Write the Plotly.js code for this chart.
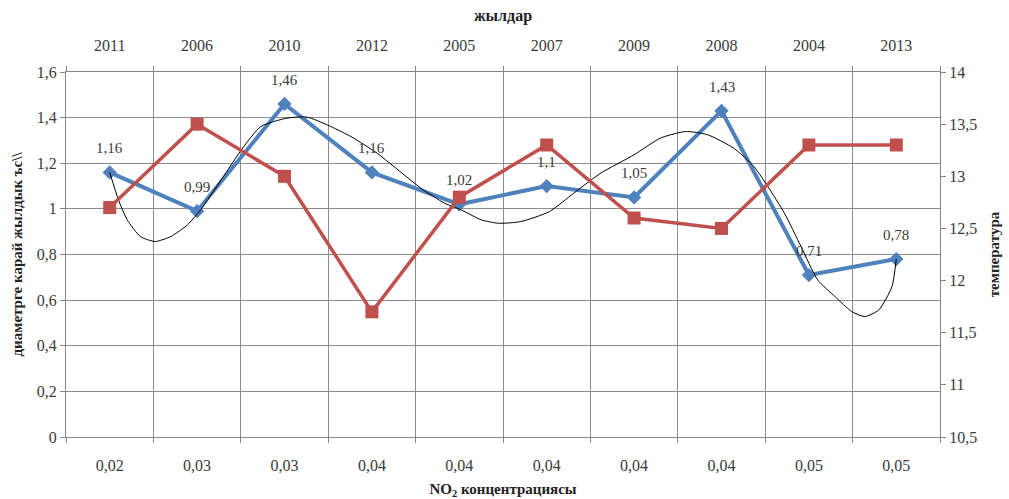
<!DOCTYPE html>
<html>
<head>
<meta charset="utf-8">
<script src="https://cdn.plot.ly/plotly-3.0.1.min.js"></script>
<style>html,body{margin:0;padding:0;background:#fff;}#chart{width:1009px;height:499px;}</style>
</head>
<body>
<div id="chart"></div>
<script>
// Category positions and tick labels
const positions = [1, 2, 3, 4, 5, 6, 7, 8, 9, 10];
const no2Labels = ["0,02", "0,03", "0,03", "0,04", "0,04", "0,04", "0,04", "0,04", "0,05", "0,05"];
const years = ["2011", "2006", "2010", "2012", "2005", "2007", "2009", "2008", "2004", "2013"];

// Series values
const growth = [1.16, 0.99, 1.46, 1.16, 1.02, 1.1, 1.05, 1.43, 0.71, 0.78];
const temperature = [12.7, 13.5, 13.0, 11.7, 12.8, 13.3, 12.6, 12.5, 13.3, 13.3];

// Smoothed black curve
const curveX = [1.0, 1.1, 1.2, 1.35, 1.52, 1.7, 1.89, 2.04, 2.28, 2.52, 2.73, 3.03, 3.26, 3.49, 3.76, 4.06, 4.25, 4.56, 4.83, 5.02, 5.25, 5.45, 5.7, 6.03, 6.31, 6.62, 7.0, 7.3, 7.59, 7.84, 8.14, 8.37, 8.53, 8.72, 8.91, 9.1, 9.3, 9.49, 9.64, 9.8, 9.95, 10.0];
const curveY = [1.16, 1.04, 0.952, 0.879, 0.857, 0.879, 0.93, 0.996, 1.13, 1.266, 1.361, 1.398, 1.402, 1.368, 1.317, 1.244, 1.186, 1.091, 1.025, 0.996, 0.952, 0.937, 0.944, 0.988, 1.069, 1.157, 1.237, 1.31, 1.339, 1.325, 1.266, 1.186, 1.098, 0.981, 0.835, 0.689, 0.615, 0.55, 0.528, 0.557, 0.659, 0.78];

const FONT = "Liberation Serif";
const GRID = "#8c8c8c";
const LINE = "#868686";
const TXT = "#3a3a3a";

const traces = [
  {
    x: positions, y: growth, xaxis: "x", yaxis: "y",
    type: "scatter", mode: "lines+markers",
    line: {color: "#4F81BD", width: 4},
    marker: {symbol: "diamond", size: 11, color: "#4F81BD"},
    showlegend: false, hoverinfo: "skip", cliponaxis: false
  },
  {
    x: positions, y: temperature, xaxis: "x", yaxis: "y2",
    type: "scatter", mode: "lines+markers",
    line: {color: "#C0504D", width: 3.5},
    marker: {symbol: "square", size: 13, color: "#C0504D"},
    showlegend: false, hoverinfo: "skip", cliponaxis: false
  },
  {
    x: curveX, y: curveY, xaxis: "x", yaxis: "y",
    type: "scatter", mode: "lines",
    line: {color: "#000000", width: 1, shape: "spline", smoothing: 0.6},
    showlegend: false, hoverinfo: "skip"
  },
  {
    x: positions, y: growth, xaxis: "x2", yaxis: "y",
    type: "scatter", mode: "markers", marker: {opacity: 0},
    showlegend: false, hoverinfo: "skip"
  }
];

// Data labels for the blue series, placed above each point
const labelAnnotations = positions.map((p, i) => ({
  x: p, y: growth[i], xref: "x", yref: "y",
  text: String(growth[i]).replace(".", ","),
  showarrow: false, yshift: 24,
  font: {family: FONT, size: 15, color: TXT}
}));

const layout = {
  width: 1009, height: 499,
  margin: {l: 66, r: 69, t: 72, b: 62},
  paper_bgcolor: "#ffffff", plot_bgcolor: "#ffffff",
  separators: ", ",
  font: {family: FONT, size: 15, color: TXT},
  showlegend: false,
  annotations: labelAnnotations,
  xaxis: {
    type: "linear", range: [0.5, 10.5],
    tickmode: "array", tickvals: positions, ticktext: no2Labels,
    ticks: "outside", ticklen: 14, tickcolor: "rgba(0,0,0,0)",
    showgrid: false, zeroline: false,
    showline: true, linecolor: LINE, linewidth: 1,
    minor: {tick0: 0.5, dtick: 1, showgrid: true, gridcolor: GRID, gridwidth: 1, ticks: "outside", ticklen: 5, tickcolor: LINE},
    tickfont: {family: FONT, size: 16, color: TXT},
    title: {text: "<b>NO<sub>2</sub> концентрациясы</b>", font: {family: FONT, size: 15, color: "#222"}, standoff: 12},
    automargin: false
  },
  xaxis2: {
    type: "linear", range: [0.5, 10.5], overlaying: "x", side: "top",
    tickmode: "array", tickvals: positions, ticktext: years,
    ticks: "outside", ticklen: 14, tickcolor: "rgba(0,0,0,0)",
    showgrid: false, zeroline: false,
    showline: true, linecolor: LINE, linewidth: 1,
    minor: {tick0: 0.5, dtick: 1, showgrid: false, ticks: "outside", ticklen: 5, tickcolor: LINE},
    tickfont: {family: FONT, size: 16, color: TXT},
    title: {text: "<b>жылдар</b>", font: {family: FONT, size: 16, color: "#222"}, standoff: 10},
    automargin: false
  },
  yaxis: {
    range: [0, 1.6], dtick: 0.2, tick0: 0,
    showgrid: true, gridcolor: GRID, gridwidth: 1, zeroline: false,
    showline: true, linecolor: LINE, linewidth: 1,
    ticks: "outside", ticklen: 5, tickcolor: LINE,
    tickfont: {family: FONT, size: 16, color: TXT},
    title: {text: "<b>диаметрге карай жылдык ъс\\\\</b>", font: {family: FONT, size: 15, color: "#222"}, standoff: 10},
    automargin: false
  },
  yaxis2: {
    range: [10.5, 14], dtick: 0.5, tick0: 10.5, overlaying: "y", side: "right",
    showgrid: false, zeroline: false,
    showline: true, linecolor: LINE, linewidth: 1,
    ticks: "outside", ticklen: 5, tickcolor: LINE,
    tickfont: {family: FONT, size: 16, color: TXT},
    title: {text: "<b>температура</b>", font: {family: FONT, size: 15, color: "#222"}, standoff: 12},
    automargin: false
  }
};

Plotly.newPlot("chart", traces, layout, {displayModeBar: false, staticPlot: true});
</script>
</body>
</html>
